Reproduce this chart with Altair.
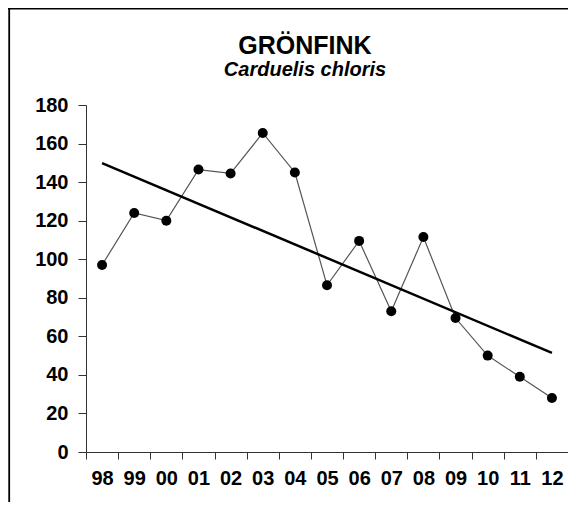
import altair as alt
import pandas as pd

years = ["98", "99", "00", "01", "02", "03", "04", "05", "06", "07", "08", "09", "10", "11", "12"]
counts = [97, 124, 120, 146.5, 144.5, 165.5, 145, 86.5, 109.5, 73, 111.5, 69.5, 50, 39, 28]
y_ticks = [0, 20, 40, 60, 80, 100, 120, 140, 160, 180]

df = pd.DataFrame({"year": years, "count": counts, "idx": list(range(len(years)))})

FONT = "Liberation Sans"
W, H = 482, 347

x_enc = alt.X(
    "year:O",
    scale=alt.Scale(type="band", domain=years, paddingInner=0, paddingOuter=0),
    bandPosition=0.5,
    axis=alt.Axis(
        title=None, labelAngle=0, tickBand="extent", tickSize=7, labelPadding=9,
        labelFont=FONT, labelFontSize=20, labelFontWeight="bold", labelColor="black",
        domainColor="#333", tickColor="#333", labelFlush=False,
    ),
)
y_enc = alt.Y(
    "count:Q",
    scale=alt.Scale(domain=[0, 180], nice=False),
    axis=alt.Axis(
        title=None, values=y_ticks, grid=False, tickSize=8, labelPadding=10,
        labelFont=FONT, labelFontSize=20, labelFontWeight="bold", labelColor="black",
        domainColor="#333", tickColor="#333",
    ),
)

base = alt.Chart(df)
line = base.mark_line(color="#555", strokeWidth=1.2).encode(x=x_enc, y=y_enc)
pts = base.mark_point(filled=True, color="black", size=100, opacity=1).encode(x=x_enc, y=y_enc)

arr = "[" + ",".join("'%s'" % y for y in years) + "]"
trend = base.transform_regression(
    "idx", "count", method="linear", extent=[0, len(years) - 1]
).transform_calculate(
    year=arr + "[round(datum.idx)]"
).mark_line(color="black", strokeWidth=2.5).encode(x=x_enc, y=y_enc)

frame_data = alt.Data(values=[{"k": 0}])
top_rule = alt.Chart(frame_data).mark_rule(color="black", strokeWidth=3).encode(
    x=alt.value(-78), x2=alt.value(W), y=alt.value(-97)
)
left_rule = alt.Chart(frame_data).mark_rule(color="black", strokeWidth=1.8).encode(
    x=alt.value(-76.8), y=alt.value(-97), y2=alt.value(H + 60)
)

chart = alt.layer(line, trend, pts, top_rule, left_rule).properties(
    width=W,
    height=H,
    autosize=alt.AutoSizeParams(type="none"),
    padding={"left": 78, "top": 97, "right": 0, "bottom": 50},
    title=alt.TitleParams(
        text="GRÖNFINK",
        subtitle="Carduelis chloris",
        font=FONT, fontSize=25, fontWeight="bold", color="black",
        subtitleFont=FONT, subtitleFontSize=20, subtitleFontStyle="italic",
        subtitleFontWeight="bold", subtitleColor="black",
        anchor="middle", frame="group", dx=-22, offset=-73, subtitlePadding=1,
    ),
).configure_view(stroke=None)

chart.save("out.html", embed_options={"renderer": "svg", "actions": False})
